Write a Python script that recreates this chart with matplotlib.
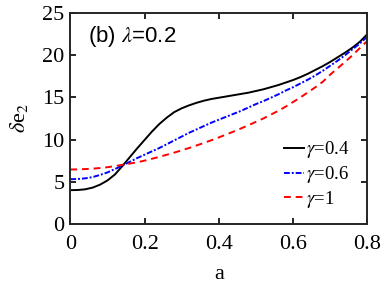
import matplotlib
matplotlib.use('Agg')

import numpy as np
import matplotlib.pyplot as plt

# Data
a = np.linspace(0, 0.8, 41)
de_04 = [4.0, 4.02, 4.1, 4.3, 4.65, 5.15, 5.85, 6.85, 7.9, 8.95,
         9.95, 10.95, 11.85, 12.6, 13.25, 13.7, 14.05, 14.35, 14.6, 14.8,
         14.95, 15.1, 15.25, 15.4, 15.55, 15.75, 15.95, 16.2, 16.45, 16.75,
         17.05, 17.4, 17.8, 18.25, 18.7, 19.2, 19.75, 20.3, 20.9, 21.6, 22.5]
de_06 = [5.3, 5.32, 5.4, 5.55, 5.8, 6.1, 6.5, 6.9, 7.35, 7.8,
         8.2, 8.6, 9.0, 9.45, 9.9, 10.35, 10.8, 11.2, 11.6, 12.0,
         12.35, 12.7, 13.05, 13.4, 13.8, 14.2, 14.55, 14.95, 15.35, 15.8,
         16.2, 16.65, 17.1, 17.6, 18.15, 18.75, 19.35, 20.0, 20.7, 21.4, 22.2]
de_1 = [6.45, 6.46, 6.5, 6.55, 6.62, 6.72, 6.85, 7.0, 7.15, 7.3,
        7.5, 7.72, 7.95, 8.2, 8.45, 8.72, 9.0, 9.3, 9.6, 9.92,
        10.25, 10.6, 10.95, 11.32, 11.7, 12.1, 12.5, 12.95, 13.4, 13.9,
        14.45, 15.0, 15.6, 16.2, 16.85, 17.7, 18.45, 19.2, 20.0, 20.85, 21.7]
labels = [r'$\gamma$=0.4', r'$\gamma$=0.6', r'$\gamma$=1']

plt.rcParams['font.family'] = ['Liberation Serif', 'DejaVu Serif']
plt.rcParams['mathtext.fontset'] = 'stix'

fig = plt.figure(figsize=(3.82, 2.86), dpi=100)
ax = fig.add_axes([0.184, 0.217, 0.778, 0.738])

ax.plot(a, de_04, color='black', lw=1.4, linestyle='-', label=labels[0])
ax.plot(a, de_06, color='blue', lw=1.4, linestyle=(0, (3, 1, 1, 1)), label=labels[1])
ax.plot(a, de_1, color='red', lw=1.4, linestyle=(0, (3.5, 2.5)), label=labels[2])

ax.set_xlim(0, 0.8)
ax.set_ylim(0, 25)
ax.set_xticks([0, 0.2, 0.4, 0.6, 0.8])
ax.set_xticklabels(['0', '0.2', '0.4', '0.6', '0.8'])
ax.set_yticks([0, 5, 10, 15, 20, 25])
ax.tick_params(direction='in', top=True, right=True, labelsize=16, length=4, width=1.2)
ax.tick_params(axis='x', pad=8)
ax.tick_params(axis='y', pad=4)
for s in ax.spines.values():
    s.set_linewidth(1.4)
    s.set_color('#262626')

ax.set_xlabel('a', fontsize=16, labelpad=8)
ax.set_ylabel(r'$\delta$e$_2$', fontsize=16, labelpad=9)

ax.text(0.06, 0.86, r'(b) $\lambda$=0.2', transform=ax.transAxes, fontsize=16,
        family='Liberation Sans')

ax.legend(loc='lower right', bbox_to_anchor=(0.99, -0.005), frameon=False, fontsize=13.5,
          handlelength=1.1, handletextpad=0.1, labelspacing=0.2, borderpad=0.3)

fig.savefig('out.png', dpi=100)
